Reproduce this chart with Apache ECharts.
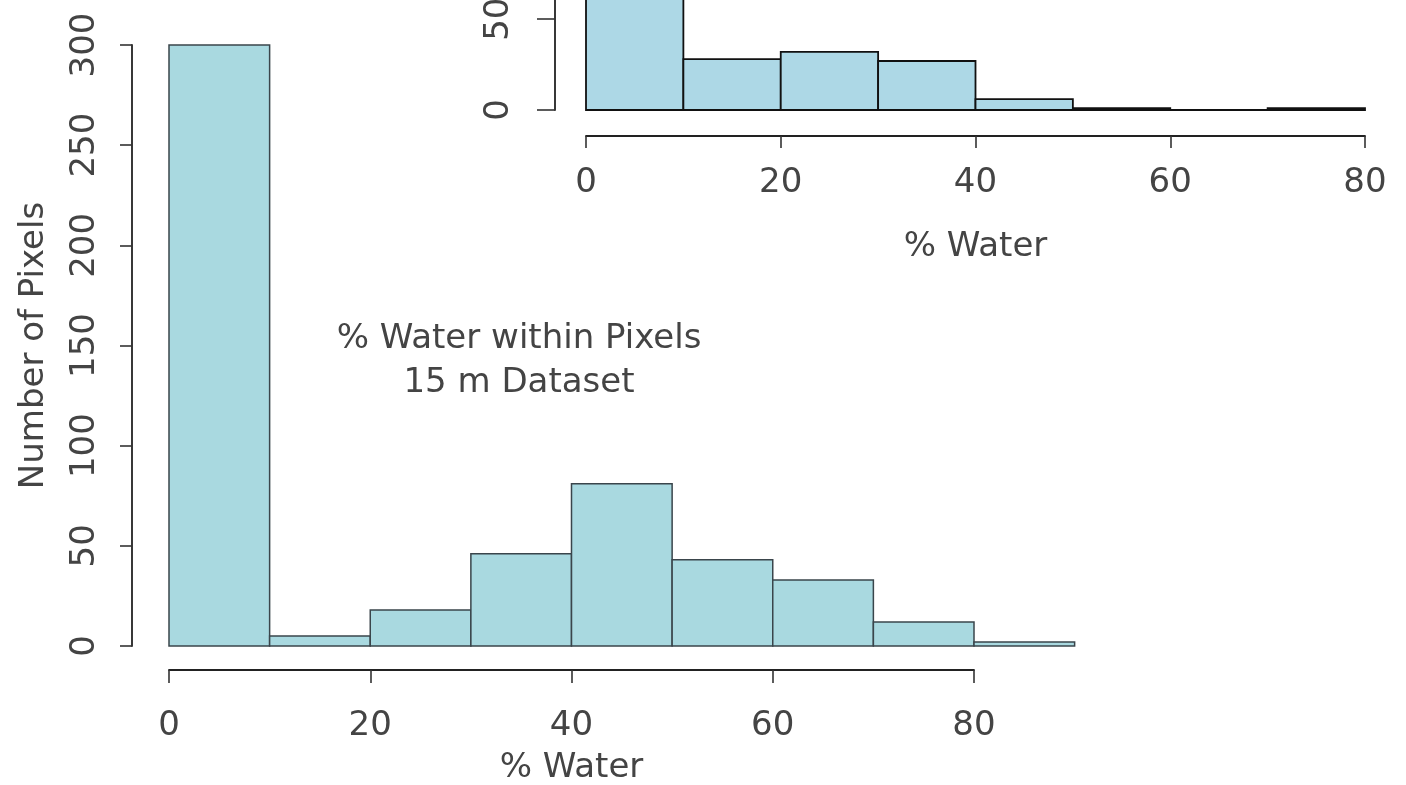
<!DOCTYPE html>
<html>
<head>
<meta charset="utf-8">
<script src="https://cdn.jsdelivr.net/npm/echarts@6/dist/echarts.min.js"></script>
<style>
html,body{margin:0;padding:0;background:#fff;}
#chart{width:1406px;height:785px;}
</style>
</head>
<body>
<div id="chart"></div>
<script>
// Main histogram (15 m dataset)
const mainBinStarts = [0, 10, 20, 30, 40, 50, 60, 70, 80];
const mainBinEnds   = [10, 20, 30, 40, 50, 60, 70, 80, 90];
const mainCounts    = [300, 5, 18, 46, 81, 43, 33, 12, 2];
const mainXTicks    = [0, 20, 40, 60, 80];
const mainYTicks    = [0, 50, 100, 150, 200, 250, 300];

// Inset histogram
const insetBinStarts = [0, 10, 20, 30, 40, 50, 60, 70];
const insetBinEnds   = [10, 20, 30, 40, 50, 60, 70, 80];
const insetCounts    = [140, 28, 32, 27, 6, 1, 0, 1];
const insetXTicks    = [0, 20, 40, 60, 80];
const insetYTicks    = [0, 50];

const annotationLines = ['% Water within Pixels', '15 m Dataset'];
const xTitle = '% Water';
const yTitle = 'Number of Pixels';

const FONT = 'DejaVu Sans';
const TXT = '#444444';
const AX = '#222222';

function mkData(s, e, c) { return s.map((v, i) => [v, e[i], c[i]]); }

function histRender(fill, stroke, lw) {
  return function (params, api) {
    const x0 = api.value(0), x1 = api.value(1), c = api.value(2);
    const p0 = api.coord([x0, c]);
    const p1 = api.coord([x1, 0]);
    return {
      type: 'rect',
      shape: { x: p0[0], y: p0[1], width: p1[0] - p0[0], height: p1[1] - p0[1] },
      style: { fill: fill, stroke: stroke, lineWidth: lw }
    };
  };
}

const chart = echarts.init(document.getElementById('chart'), null, { renderer: 'canvas' });

const axisLineStyle = { show: true, onZero: false, lineStyle: { color: AX, width: 1.8 } };
const tickLine = { color: '#333333', width: 1.6 };
const labelStyle = { color: TXT, fontFamily: FONT, fontSize: 34 };

chart.setOption({
  animation: false,
  backgroundColor: '#ffffff',
  grid: [
    { left: 169, top: 45, width: 805, height: 601, containLabel: false, outerBoundsMode: 'none' },
    { left: 586, top: 0, width: 779, height: 110, containLabel: false, outerBoundsMode: 'none' }
  ],
  xAxis: [
    {
      gridIndex: 0, type: 'value', min: 0, max: 80, interval: 20,
      offset: 24,
      axisLine: axisLineStyle,
      axisTick: { show: true, length: 13, lineStyle: tickLine },
      axisLabel: Object.assign({ margin: 39, formatter: v => mainXTicks.includes(v) ? String(v) : '' }, labelStyle),
      splitLine: { show: false },
      name: xTitle, nameLocation: 'middle', nameGap: 81,
      nameTextStyle: { color: TXT, fontFamily: FONT, fontSize: 34 }
    },
    {
      gridIndex: 1, type: 'value', min: 0, max: 80, interval: 20,
      offset: 26,
      axisLine: axisLineStyle,
      axisTick: { show: true, length: 12, lineStyle: tickLine },
      axisLabel: Object.assign({ margin: 30, formatter: v => insetXTicks.includes(v) ? String(v) : '' }, labelStyle),
      splitLine: { show: false },
      name: xTitle, nameLocation: 'middle', nameGap: 94,
      nameTextStyle: { color: TXT, fontFamily: FONT, fontSize: 34 }
    }
  ],
  yAxis: [
    {
      gridIndex: 0, type: 'value', min: 0, max: 300, interval: 50,
      offset: 37,
      axisLine: axisLineStyle,
      axisTick: { show: true, length: 12, lineStyle: tickLine },
      axisLabel: Object.assign({ margin: 30, rotate: 90, formatter: v => mainYTicks.includes(v) ? String(v) : '' }, labelStyle),
      splitLine: { show: false },
      name: yTitle, nameLocation: 'middle', nameGap: 81, nameRotate: 90,
      nameTextStyle: { color: TXT, fontFamily: FONT, fontSize: 34 }
    },
    {
      gridIndex: 1, type: 'value', min: 0, max: 60.6,
      offset: 31,
      axisLine: axisLineStyle,
      axisTick: { show: true, length: 18, customValues: insetYTicks, lineStyle: tickLine },
      axisLabel: Object.assign({ margin: 39, rotate: 90, customValues: insetYTicks, formatter: v => String(v) }, labelStyle),
      splitLine: { show: false }
    }
  ],
  series: [
    {
      type: 'custom', xAxisIndex: 0, yAxisIndex: 0, clip: false,
      renderItem: histRender('#a9d9e0', '#3a454b', 1.5),
      encode: { x: [0, 1], y: 2 },
      data: mkData(mainBinStarts, mainBinEnds, mainCounts)
    },
    {
      type: 'custom', xAxisIndex: 1, yAxisIndex: 1, clip: false,
      renderItem: histRender('#add8e6', '#111111', 1.8),
      encode: { x: [0, 1], y: 2 },
      data: mkData(insetBinStarts, insetBinEnds, insetCounts)
    }
  ],
  graphic: [
    {
      type: 'text', x: 519, y: 317,
      style: {
        text: annotationLines.join('\n'),
        fill: TXT, font: '34px "' + FONT + '"', textAlign: 'center', textVerticalAlign: 'top', lineHeight: 44
      }
    }
  ]
});
</script>
</body>
</html>
